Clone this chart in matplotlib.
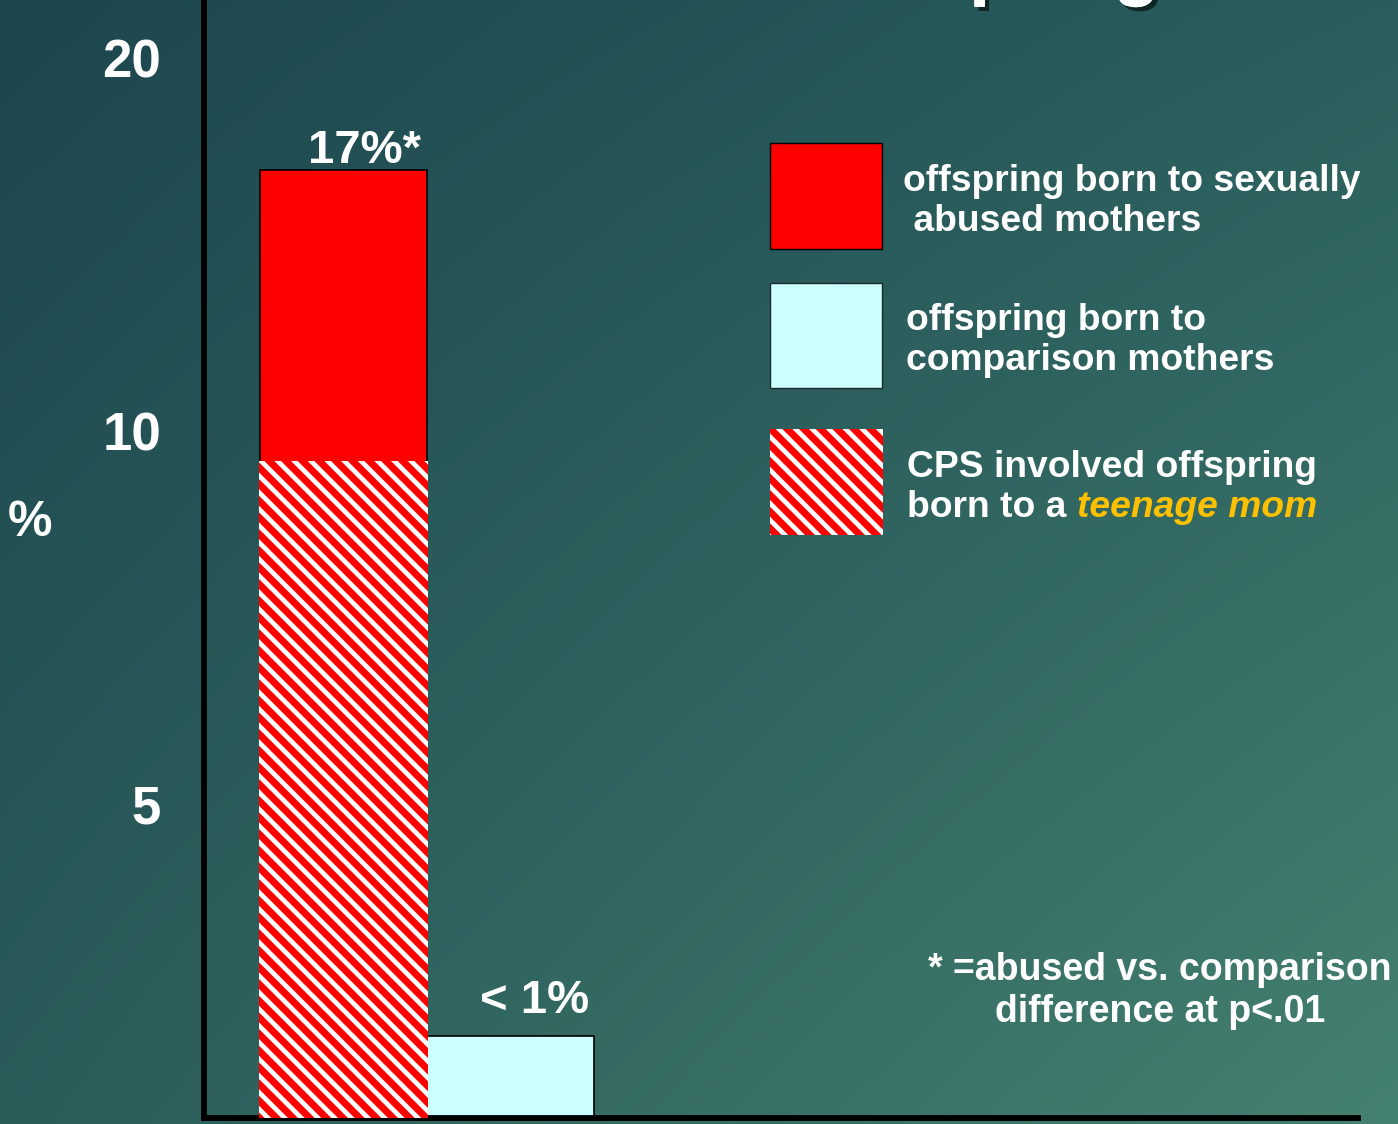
import matplotlib
matplotlib.use('Agg')
import matplotlib.pyplot as plt
import matplotlib.patheffects as pe
from matplotlib.patches import Rectangle
import numpy as np

W, H = 1398, 1124

# bar values (% of offspring with CPS involvement)
GROUPS = ['abused', 'comparison']
PCT = [17.0, 1.3]
TEEN_PCT = 9.6          # part of the abused bar born to a teenage mom
BAR_LABELS = ['17%*', '< 1%']
YTICKS = [5, 10, 20]
YTICK_LABELS = ['5', '10', '20']

LEGEND_LINES = [
    'offspring born to sexually\n abused mothers',
    'offspring born to\ncomparison mothers',
    'CPS involved offspring',
]
FOOTNOTE = '* =abused vs. comparison\ndifference at p<.01'
TITLE = 'Outcomes in Offspring'

RED = '#ff0000'
CYAN = '#ccffff'
GOLD = '#ffc000'
HATCH = '\\\\'

# hand-drawn axis: unequal spacing between the 0/5/10/20 marks
SCALE_V = [0, 5, 10, 20, 40]
SCALE_P = [0, 314, 687, 1060, 1806]


def fwd(v):
    return np.interp(v, SCALE_V, SCALE_P)


def inv(p):
    return np.interp(p, SCALE_P, SCALE_V)


def fx(x):
    return x / W


def fy(y):
    return 1 - y / H


plt.rcParams['font.family'] = ['Liberation Sans', 'DejaVu Sans']
plt.rcParams['font.weight'] = 'bold'
plt.rcParams['hatch.linewidth'] = 3.4

fig = plt.figure(figsize=(W / 100, H / 100), dpi=100)

# teal gradient background
bg = fig.add_axes([0, 0, 1, 1], zorder=-5)
tl = np.array([0x1c, 0x46, 0x4e]) / 255
tr = np.array([0x2a, 0x5e, 0x5d]) / 255
bl = np.array([0x2a, 0x5c, 0x5a]) / 255
br = np.array([0x45, 0x81, 0x71]) / 255
u = np.linspace(0, 1, 300)[None, :, None]
v = np.linspace(0, 1, 240)[:, None, None]
grad = (1 - v) * ((1 - u) * tl + u * tr) + v * ((1 - u) * bl + u * br)
bg.imshow(grad, aspect='auto', extent=(0, 1, 0, 1), interpolation='bilinear')
bg.axis('off')

ax = fig.add_axes([fx(204), 6 / H, 1154 / W, 1118 / H])
ax.set_facecolor('none')
ax.set_yscale('function', functions=(fwd, inv))
ax.set_ylim(0, 21.55)
ax.set_xlim(-0.835, 6.075)

x = np.arange(len(GROUPS))
ax.bar(x, PCT, width=1.0, color=[RED, CYAN], edgecolor='black',
       linewidth=1.2, zorder=2)
ax.bar(x[0], TEEN_PCT, width=1.01, color=RED, edgecolor='white',
       hatch=HATCH, linewidth=0, zorder=3)

label_offsets = [(15, 5), (17, 17)]
for xi, val, lab, off in zip(x, PCT, BAR_LABELS, label_offsets):
    ax.annotate(lab, xy=(xi, val), xytext=off, textcoords='offset points',
                ha='center', va='baseline', color='white', fontsize=34,
                fontweight='bold')

for side in ('top', 'right'):
    ax.spines[side].set_visible(False)
for side in ('left', 'bottom'):
    ax.spines[side].set_linewidth(4.2)
    ax.spines[side].set_color('black')
ax.set_xticks([])
ax.set_yticks(YTICKS, labels=YTICK_LABELS)
ax.tick_params(axis='y', length=0, pad=31, labelsize=38, labelcolor='white')
ax.set_ylabel('%', rotation=0, fontsize=36, color='white', fontweight='bold',
              ha='center', va='center')
ax.yaxis.set_label_coords(-0.151, 0.532)

# legend swatches and captions
fig.add_artist(Rectangle((fx(770), fy(249)), 112 / W, 106 / H,
                         transform=fig.transFigure, facecolor=RED,
                         edgecolor='black', linewidth=1))
fig.add_artist(Rectangle((fx(770), fy(388)), 112 / W, 105 / H,
                         transform=fig.transFigure, facecolor=CYAN,
                         edgecolor='#1a2a2a', linewidth=1))
fig.add_artist(Rectangle((fx(770), fy(535)), 113 / W, 106 / H,
                         transform=fig.transFigure, facecolor=RED,
                         edgecolor='white', hatch=HATCH, linewidth=0))

txt_kw = dict(color='white', fontsize=26.8, fontweight='bold',
              va='baseline', ha='left', linespacing=1.2)
fig.text(fx(903), fy(231), LEGEND_LINES[0], **txt_kw)
fig.text(fx(906), fy(370), LEGEND_LINES[1], **txt_kw)
fig.text(fx(907), fy(477), LEGEND_LINES[2], **txt_kw)
born = fig.text(fx(907), fy(517), 'born to a ', **txt_kw)
ax.annotate('teenage mom', xy=(1, 0), xycoords=born, ha='left',
            va='bottom', color=GOLD, fontsize=26.8, fontweight='bold',
            style='italic', annotation_clip=False)

fig.text(fx(1160), fy(1022), FOOTNOTE, color='white', fontsize=27,
         fontweight='bold', ha='center', va='baseline',
         multialignment='center', linespacing=1.2)

# slide title, mostly above the visible area
fig.text(fx(1160), fy(-9), TITLE, color='white', fontsize=55,
         fontweight='bold', ha='right', va='baseline',
         path_effects=[pe.withSimplePatchShadow(offset=(3, -3),
                                                 shadow_rgbFace='#0a1a1a',
                                                 alpha=0.8),
                       pe.Normal()])

fig.savefig('out.png', dpi=100)
